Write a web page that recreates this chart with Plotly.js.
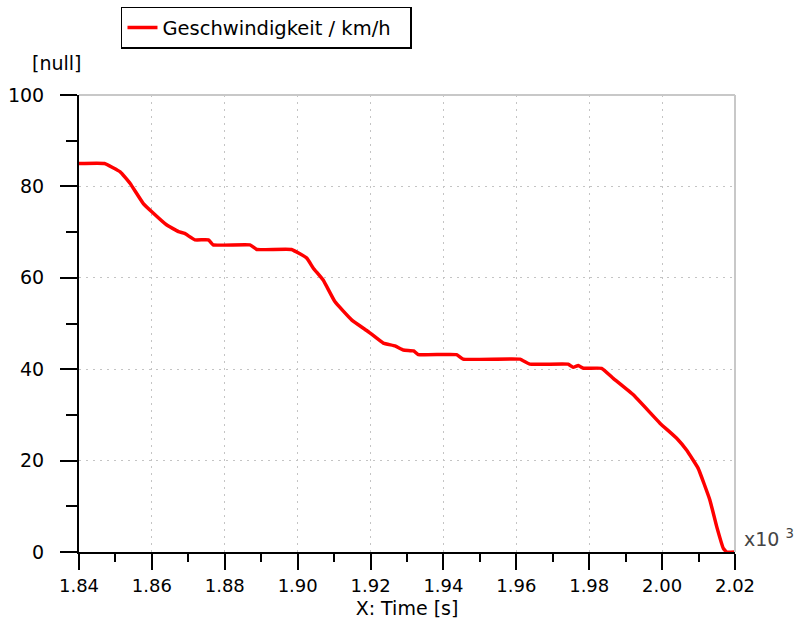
<!DOCTYPE html>
<html>
<head>
<meta charset="utf-8">
<script src="https://cdn.plot.ly/plotly-3.0.1.min.js"></script>
<style>html,body{margin:0;padding:0;background:#fff;}#chart{width:796px;height:630px;}</style>
</head>
<body>
<div id="chart"></div>
<script>
// Time in units of 10^3 s
const timeK = [1.840, 1.847, 1.8513, 1.854, 1.8576, 1.8599, 1.864, 1.8673, 1.869, 1.8718, 1.8755, 1.8768, 1.8869, 1.8888, 1.8983, 1.9025, 1.9043, 1.907, 1.9102, 1.9148, 1.9194, 1.9235, 1.9267, 1.929, 1.9318, 1.9331, 1.9436, 1.9454, 1.961, 1.9637, 1.9742, 1.9756, 1.977, 1.9784, 1.9834, 1.9866, 1.9921, 1.9994, 2.004, 2.0067, 2.0099, 2.0131, 2.015, 2.0168, 2.0177, 2.020];
const speed = [85, 85, 83.2, 80.7, 76.3, 74.5, 71.6, 70.1, 69.7, 68.3, 68.3, 67.2, 67.2, 66.2, 66.2, 64.3, 62.1, 59.5, 54.8, 50.8, 48.2, 45.7, 45.1, 44.2, 44.0, 43.2, 43.2, 42.2, 42.2, 41.1, 41.1, 40.4, 40.8, 40.2, 40.2, 38.0, 34.4, 28.2, 24.9, 22.3, 18.3, 11.4, 5.5, 0.8, 0, 0];
const seriesName = 'Geschwindigkeit / km/h';
const xTickVals = [1.84, 1.86, 1.88, 1.90, 1.92, 1.94, 1.96, 1.98, 2.00, 2.02];
const xTickText = ['1.84', '1.86', '1.88', '1.90', '1.92', '1.94', '1.96', '1.98', '2.00', '2.02'];
const yTickVals = [0, 20, 40, 60, 80, 100];

const FONT = 'DejaVu Sans, Verdana, sans-serif';

const trace = {
  x: timeK, y: speed, type: 'scatter', mode: 'lines', name: seriesName,
  line: {color: '#ff0000', width: 3.5, shape: 'spline', smoothing: 0.3}, showlegend: true
};

const layout = {
  width: 796, height: 630,
  margin: {l: 79, r: 61, t: 95, b: 78, autoexpand: false},
  paper_bgcolor: '#ffffff', plot_bgcolor: '#ffffff',
  font: {family: FONT, size: 18, color: '#000'},
  showlegend: true,
  legend: {
    orientation: 'h',
    x: 0.064, y: 1.193, xanchor: 'left', yanchor: 'top',
    bordercolor: '#000', borderwidth: 1.5, bgcolor: '#fff',
    entrywidthmode: 'pixels', entrywidth: 243,
    font: {family: FONT, size: 19.5, color: '#000'}
  },
  xaxis: {
    range: [1.84, 2.02], tickmode: 'array', tickvals: xTickVals, ticktext: xTickText,
    showline: true, linecolor: '#000', linewidth: 2,
    ticks: 'outside', ticklen: 16, tickwidth: 2, tickcolor: '#000',
    showgrid: true, gridcolor: '#c4c4c4', gridwidth: 1, griddash: '2px,5px',
    zeroline: false,
    minor: {dtick: 0.01, tick0: 1.84, ticks: 'outside', ticklen: 8, tickwidth: 2, tickcolor: '#000', showgrid: false},
    tickfont: {family: FONT, size: 18, color: '#000'},
    title: {text: 'X: Time [s]', font: {family: FONT, size: 19, color: '#000'}, standoff: 7}
  },
  yaxis: {
    range: [0, 100], tickmode: 'array', tickvals: yTickVals,
    showline: true, linecolor: '#000', linewidth: 2,
    ticks: 'outside', ticklen: 17, tickwidth: 2, tickcolor: '#000',
    showgrid: true, gridcolor: '#c4c4c4', gridwidth: 1, griddash: '2px,5px',
    zeroline: false,
    minor: {dtick: 10, tick0: 0, ticks: 'outside', ticklen: 11, tickwidth: 2, tickcolor: '#000', showgrid: false},
    ticklabelstandoff: 12,
    tickfont: {family: FONT, size: 19, color: '#000'}
  },
  shapes: [
    {type: 'line', xref: 'paper', yref: 'paper', x0: 0, x1: 1, y0: 1, y1: 1, line: {color: '#c8c8c8', width: 2}},
    {type: 'line', xref: 'paper', yref: 'paper', x0: 1, x1: 1, y0: 0, y1: 1, line: {color: '#c8c8c8', width: 2}}
  ],
  annotations: [
    {xref: 'paper', yref: 'paper', x: -0.075, y: 1.07, xanchor: 'left', yanchor: 'middle', showarrow: false,
     text: '[null]', font: {family: FONT, size: 19, color: '#000'}},
    {xref: 'paper', yref: 'paper', x: 1.011, y: 0.03, xanchor: 'left', yanchor: 'middle', showarrow: false,
     text: 'x10 <sup>3</sup>', font: {family: FONT, size: 19, color: '#444'}}
  ]
};

Plotly.newPlot('chart', [trace], layout, {displayModeBar: false, staticPlot: true});
</script>
</body>
</html>
